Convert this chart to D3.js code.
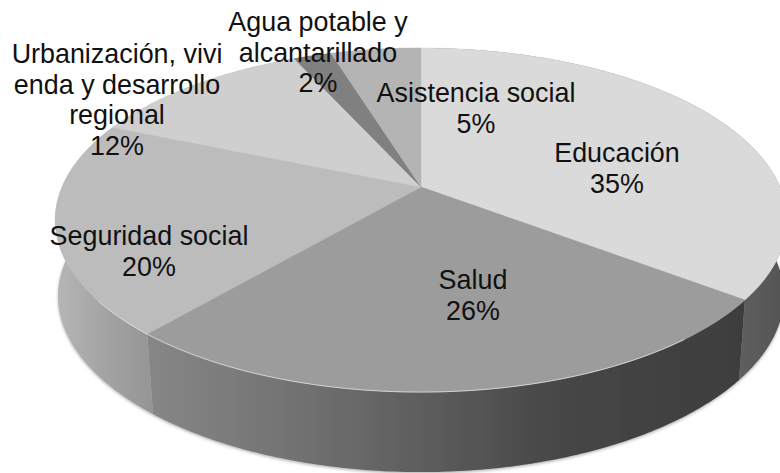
<!DOCTYPE html>
<html><head><meta charset="utf-8">
<script src="https://cdn.jsdelivr.net/npm/d3@7/dist/d3.min.js"></script>
<style>html,body{margin:0;padding:0;background:#fff}svg{display:block}</style>
</head><body><svg id="c" width="780" height="473"></svg>
<script>
const categories = ["Educación","Salud","Seguridad social","Urbanización, vivienda y desarrollo regional","Agua potable y alcantarillado","Asistencia social"];
const values = [35.3,26,20,11.9,2,4.8];
const labelLines = [["Educación"],["Salud"],["Seguridad social"],["Urbanización, vivi","enda y desarrollo","regional"],["Agua potable y","alcantarillado"],["Asistencia social"]];
const topColors = ["#dadada","#9c9c9c","#bcbcbc","#cfcfcf","#808080","#b4b4b4"];
const sideStops = [
  [[0,"#5f5f5f"],[1,"#565656"]],
  [[0,"#878787"],[0.25,"#727272"],[0.5,"#5a5a5a"],[0.7,"#464646"],[1,"#3e3e3e"]],
  [[0,"#b6b6b6"],[0.5,"#a4a4a4"],[1,"#969696"]],
  [[0,"#999"],[1,"#999"]],[[0,"#777"],[1,"#777"]],[[0,"#999"],[1,"#999"]]];
const labelAnchors = [[617,162],[473,289],[149,245],[117,63],[318,31],[476,102]];

const apex = {x:421,y:187}, P = 0.192, A = 165.7, B = 359, depth = 80;
function proj(t){ const u=Math.sin(t), v=-Math.cos(t), w=1-P*v; return [apex.x+B*u/w, apex.y+A*v/w]; }
function low(t){ const p=proj(t), v=-Math.cos(t), shrink=0.9966-0.024*v; return [apex.x+(p[0]-apex.x)*shrink, p[1]+depth]; }
const arcs = d3.pie().sort(null).value(d=>d)(values);
const samples = (a,b)=>{const n=Math.max(2,Math.ceil((b-a)*80));return d3.range(n+1).map(i=>a+(b-a)*i/n);};
const line = d3.line();
const svg = d3.select("#c");
const defs = svg.append("defs");
defs.append("filter").attr("id","sh").attr("x","-5%").attr("y","-5%").attr("width","110%").attr("height","110%")
  .append("feGaussianBlur").attr("stdDeviation",1.6);
defs.append("filter").attr("id","soft").attr("x","-5%").attr("y","-5%").attr("width","110%").attr("height","110%")
  .append("feGaussianBlur").attr("stdDeviation",0.45);

const sidePath = d=>{const ts=samples(d.startAngle,d.endAngle);
  return line(ts.map(proj).concat(ts.slice().reverse().map(low)))+"Z";};
const full = samples(0,2*Math.PI);
// soft halo under the disc
svg.append("path").attr("d",line(full.map(t=>{const p=low(t);return [p[0],p[1]+1.5];}))+"Z")
  .attr("fill","#b5b5b5").attr("filter","url(#sh)");

arcs.forEach((d,i)=>{
  const g=defs.append("linearGradient").attr("id","s"+i).attr("gradientUnits","userSpaceOnUse");
  g.attr("x1",i===0?736:i===1?146:56).attr("x2",i===0?780:i===1?740:150).attr("y1",0).attr("y2",0);
  sideStops[i].forEach(s=>g.append("stop").attr("offset",s[0]).attr("stop-color",s[1]));
});
svg.append("g").selectAll("path").data(arcs).join("path")
  .attr("d",sidePath).attr("fill",(d,i)=>`url(#s${i})`).attr("filter","url(#soft)");
svg.append("g").selectAll("path").data(arcs).join("path")
  .attr("d",d=>line([[apex.x,apex.y]].concat(samples(d.startAngle,d.endAngle).map(proj)))+"Z")
  .attr("fill",(d,i)=>topColors[i]).attr("stroke",(d,i)=>topColors[i]).attr("stroke-width",0.5);
// pale rim where the disc meets the front wall
const midFront = samples(arcs[1].startAngle+0.25,arcs[2].endAngle-1.05);
svg.append("path").attr("d",line(midFront.map(proj))).attr("fill","none")
  .attr("stroke","#e6e6e6").attr("stroke-opacity",0.75).attr("stroke-width",1);

const text = svg.append("g").attr("font-family","'Liberation Sans',Arial,sans-serif").attr("font-size",26.9)
  .attr("fill","#111").attr("text-anchor","middle");
labelLines.forEach((ls,i)=>{
  const [x,y]=labelAnchors[i];
  ls.concat(Math.round(values[i])+"%").forEach((s,j)=>text.append("text").attr("x",x).attr("y",y+j*30.7).text(s));
});
</script></body></html>
